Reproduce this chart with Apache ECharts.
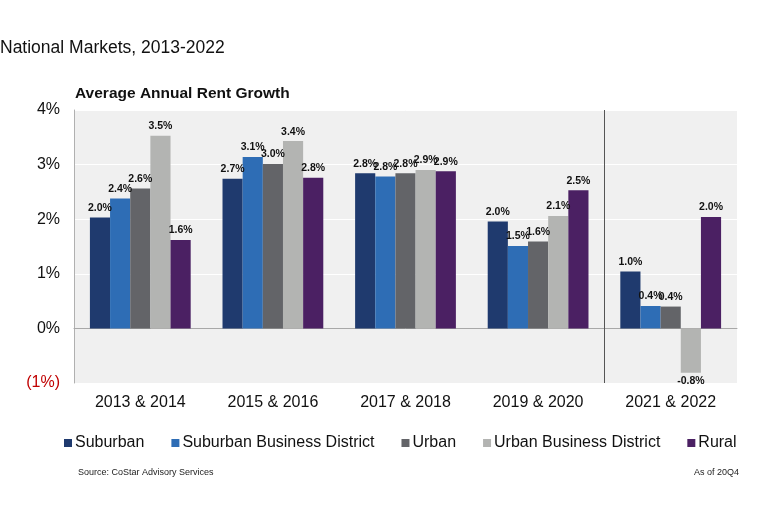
<!DOCTYPE html>
<html>
<head>
<meta charset="utf-8">
<script src="https://cdn.jsdelivr.net/npm/echarts@6/dist/echarts.min.js"></script>
<style>
html,body{margin:0;padding:0;background:#fff;}
#chart{width:768px;height:522px;}
</style>
</head>
<body>
<div id="chart"></div>
<script>
const categories = ['2013 & 2014', '2015 & 2016', '2017 & 2018', '2019 & 2020', '2021 & 2022'];
const suburban = [2.03, 2.74, 2.84, 1.96, 1.04];
const suburbanBD = [2.38, 3.14, 2.78, 1.51, 0.41];
const urban = [2.56, 3.01, 2.84, 1.59, 0.40];
const urbanBD = [3.53, 3.43, 2.90, 2.06, -0.81];
const rural = [1.62, 2.76, 2.88, 2.53, 2.04];
const seriesNames = ['Suburban', 'Suburban Business District', 'Urban', 'Urban Business District', 'Rural'];
const seriesData = [suburban, suburbanBD, urban, urbanBD, rural];
const colors = ['#1f3a6e', '#2e6db5', '#636468', '#b3b4b2', '#4b2063'];
const yTicks = {'4': '4%', '3': '3%', '2': '2%', '1': '1%', '0': '0%', '-1': '(1%)'};
const separatorBoundary = 4; // forecast separator before '2021 & 2022'

const chart = echarts.init(document.getElementById('chart'));
const font = 'Liberation Sans, Arial, sans-serif';

const series = seriesData.map((d, i) => ({
  name: seriesNames[i],
  type: 'bar',
  data: d.map(v => v < 0 ? {value: v, label: {position: 'bottom', distance: 3}} : v),
  barGap: '0%',
  barCategoryGap: '24%',
  itemStyle: {color: colors[i]},
  label: {
    show: true,
    position: 'top',
    distance: 4,
    fontFamily: font,
    fontSize: 10.5,
    fontWeight: 'bold',
    color: '#111',
    formatter: p => p.value.toFixed(1) + '%'
  }
}));
series.push({
  name: 'separator',
  type: 'line',
  xAxisIndex: 2,
  data: [],
  silent: true,
  markLine: {
    silent: true,
    symbol: 'none',
    label: {show: false},
    lineStyle: {color: '#555', type: 'solid', width: 1},
    data: [{xAxis: separatorBoundary}]
  }
});

chart.setOption({
  backgroundColor: '#ffffff',
  animation: false,
  color: colors,
  title: [
    {text: 'National Markets, 2013-2022', left: 0, top: 39, padding: 0,
     textStyle: {fontFamily: font, fontSize: 17.5, fontWeight: 'normal', color: '#111'}},
    {text: 'Average Annual Rent Growth', left: 75, top: 86, padding: 0,
     textStyle: {fontFamily: font, fontSize: 15.5, fontWeight: 'bold', color: '#111'}},
    {text: 'Source: CoStar Advisory Services', left: 78, top: 468, padding: 0,
     textStyle: {fontFamily: font, fontSize: 9, fontWeight: 'normal', color: '#222'}},
    {text: 'As of 20Q4', right: 29, top: 468, padding: 0,
     textStyle: {fontFamily: font, fontSize: 9, fontWeight: 'normal', color: '#222'}}
  ],
  legend: {
    left: 59, top: 430,
    itemWidth: 8, itemHeight: 8, itemGap: 27,
    icon: 'rect',
    textStyle: {fontFamily: font, fontSize: 16, color: '#111', padding: [0, 0, 0, -2]},
    data: seriesNames
  },
  grid: {
    left: 74, right: 31, top: 110, bottom: 139,
    show: true, backgroundColor: '#f0f0f0', borderWidth: 0
  },
  xAxis: [{
    type: 'category',
    data: categories,
    axisLine: {show: true, onZero: true, lineStyle: {color: '#a8a8a8', width: 1}},
    axisTick: {show: false},
    axisLabel: {show: false},
    splitLine: {show: false}
  }, {
    type: 'category',
    data: categories,
    position: 'bottom',
    axisLine: {show: false},
    axisTick: {show: false},
    axisLabel: {fontFamily: font, fontSize: 16, color: '#111', margin: 12}
  }, {
    type: 'value',
    min: 0, max: categories.length,
    show: false
  }],
  yAxis: {
    type: 'value',
    min: -1, max: 4, interval: 1,
    axisLine: {show: true, lineStyle: {color: '#b0b0b0'}},
    axisTick: {show: false},
    splitLine: {show: true, lineStyle: {color: '#ffffff', width: 1}},
    axisLabel: {
      fontFamily: font, fontSize: 16, margin: 14,
      formatter: v => yTicks[String(v)],
      color: v => v < 0 ? '#c00000' : '#111'
    }
  },
  series: series
});
</script>
</body>
</html>
